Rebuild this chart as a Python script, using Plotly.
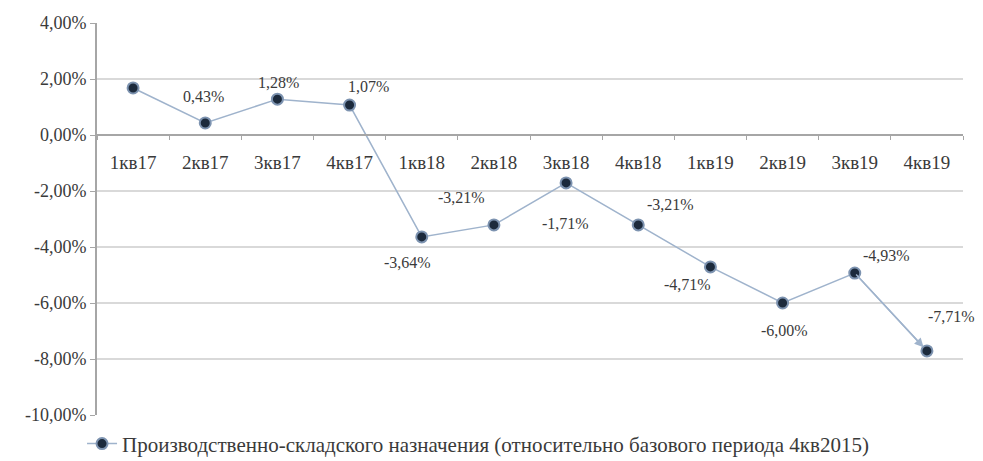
import plotly.graph_objects as go

# Quarterly change of industrial/warehouse rents vs. base period 4кв2015, %
quarters = ["1кв17", "2кв17", "3кв17", "4кв17", "1кв18", "2кв18",
            "3кв18", "4кв18", "1кв19", "2кв19", "3кв19", "4кв19"]
values = [1.68, 0.43, 1.28, 1.07, -3.64, -3.21,
          -1.71, -3.21, -4.71, -6.00, -4.93, -7.71]
# which points carry a value label
labelled = [False] + [True] * 11
series_name = "Производственно-складского назначения (относительно базового периода 4кв2015)"

y_ticks = [4, 2, 0, -2, -4, -6, -8, -10]


def pct(v):
    return f"{v:.2f}%".replace(".", ",")


y_ticktext = [pct(v) for v in y_ticks]

# label offsets in pixels relative to each point (x, y)
label_offsets = [(0, 0), (-2, 26), (1, 17), (19, 19), (-14, -26), (-32, 27),
                 (-1, -41), (32, 20), (-23, -18), (2, -27), (32, 18), (25, 34)]

FONT = "Liberation Serif"
TXT = "#3a3a3a"
LINE = "#9fb3cc"

fig = go.Figure()
fig.add_trace(go.Scatter(
    x=quarters, y=values, name=series_name, mode="lines+markers",
    line=dict(color=LINE, width=1.5),
    marker=dict(size=11, color="#1c2a3c", line=dict(color="#7d93b0", width=2)),
))

annotations = []
for q, v, show, (dx, dy) in zip(quarters, values, labelled, label_offsets):
    if not show:
        continue
    annotations.append(dict(
        x=q, y=v, xref="x", yref="y", text=pct(v),
        showarrow=False, xshift=dx, yshift=dy,
        font=dict(family=FONT, size=16, color=TXT),
    ))

# arrowhead on the final segment
annotations.append(dict(
    x=quarters[-1], y=values[-1], ax=quarters[-2], ay=values[-2],
    xref="x", yref="y", axref="x", ayref="y", text="",
    showarrow=True, arrowhead=2, arrowsize=1.2, arrowwidth=1.5,
    arrowcolor=LINE, standoff=5,
))

fig.update_layout(
    width=983, height=461,
    margin=dict(l=97, r=20, t=23, b=46, autoexpand=False),
    paper_bgcolor="white", plot_bgcolor="white",
    font=dict(family=FONT, size=16, color=TXT),
    showlegend=True,
    legend=dict(orientation="h", x=0.44, xanchor="center",
                yref="container", y=0.037, yanchor="middle",
                font=dict(family=FONT, size=21, color=TXT)),
    annotations=annotations,
)

fig.update_xaxes(
    type="category", range=[-0.5, 11.5],
    anchor="free", position=10 / 14,
    showline=True, linecolor="#a6a6a6", linewidth=2,
    ticks="outside", tickson="boundaries", ticklen=4, tickcolor="#a6a6a6",
    ticklabelstandoff=10,
    showgrid=False, tickfont=dict(family=FONT, size=19, color=TXT),
)

fig.update_yaxes(
    range=[-10, 4], tickvals=y_ticks, ticktext=y_ticktext,
    showline=True, linecolor="#a6a6a6", linewidth=2,
    ticks="outside", ticklen=5, tickcolor="#a6a6a6",
    showgrid=True, gridcolor="#d9d9d9", gridwidth=1.5, zeroline=False,
    tickfont=dict(family=FONT, size=18, color=TXT),
)

fig.write_html("out.html")
